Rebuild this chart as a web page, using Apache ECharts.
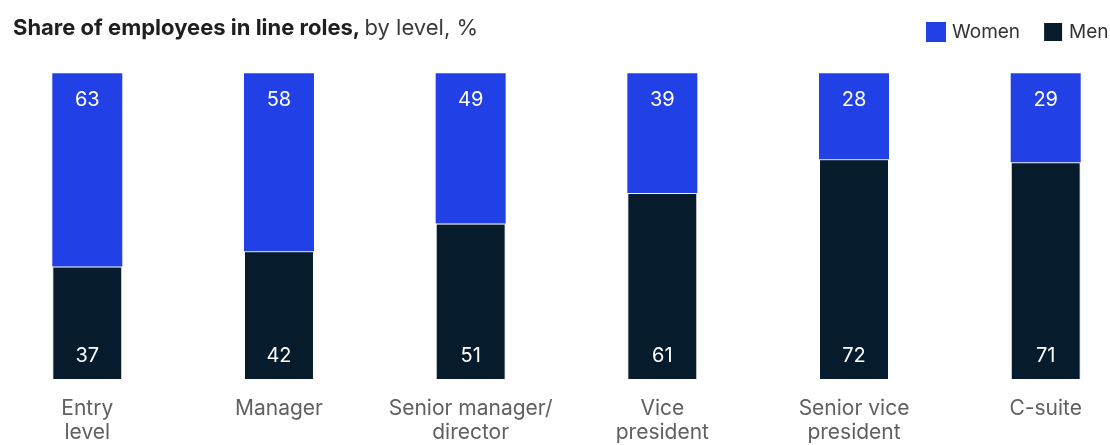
<!DOCTYPE html>
<html>
<head>
<meta charset="utf-8">
<script src="https://cdn.jsdelivr.net/npm/echarts@6/dist/echarts.min.js"></script>
<style>
  html, body { margin: 0; padding: 0; background: #ffffff; }
  #chart { width: 1110px; height: 445px; }
</style>
</head>
<body>
<div id="chart"></div>
<script>
// Corporate levels, entry level to C-suite
const levels = ['Entry\nlevel', 'Manager', 'Senior manager/\ndirector', 'Vice\npresident', 'Senior vice\npresident', 'C-suite'];
// Share of employees in line roles, %
const women = [63, 58, 49, 39, 28, 29];
const men = [37, 42, 51, 61, 72, 71];

const FONT = 'Inter, "Liberation Sans", Arial, sans-serif';
const BLUE = '#2141e6';
const NAVY = '#061c2c';

const chart = echarts.init(document.getElementById('chart'), null, { renderer: 'canvas' });

chart.setOption({
  animation: false,
  backgroundColor: '#ffffff',
  textStyle: { fontFamily: FONT },
  title: {
    left: 8,
    top: 12,
    text: '{b|Share of employees in line roles,} {n|by level, %}',
    textStyle: {
      rich: {
        b: { fontFamily: FONT, fontSize: 22, fontWeight: 'bold', color: '#1f1f1f' },
        n: { fontFamily: FONT, fontSize: 22, fontWeight: 'normal', color: '#3a3a3a' }
      }
    }
  },
  legend: {
    left: 921,
    top: 16,
    width: 400,
    orient: 'horizontal',
    itemWidth: 20,
    itemHeight: 20,
    itemGap: 22,
    icon: 'rect',
    textStyle: { fontFamily: FONT, fontSize: 19, color: '#333333', padding: [0, 0, 0, 1] },
    data: ['Women', 'Men']
  },
  grid: {
    left: 87.3,
    right: 64.3,
    top: 73.3,
    bottom: 63.3
  },
  xAxis: {
    type: 'category',
    data: levels,
    boundaryGap: false,
    axisLine: { show: false },
    axisTick: { show: false },
    axisLabel: {
      interval: 0,
      margin: 17,
      fontFamily: FONT,
      fontSize: 21,
      lineHeight: 24,
      color: '#606060',
      align: 'center'
    }
  },
  yAxis: {
    type: 'value',
    min: 0,
    max: 100,
    show: false,
    splitLine: { show: false }
  },
  series: [
    {
      name: 'Men',
      type: 'bar',
      stack: 'share',
      barWidth: 70,
      clip: false,
      data: men,
      itemStyle: { color: NAVY, borderColor: '#ffffff', borderWidth: 1 },
      label: {
        show: true,
        position: 'insideBottom',
        distance: 14,
        fontFamily: FONT,
        fontSize: 20,
        color: '#ffffff'
      }
    },
    {
      name: 'Women',
      type: 'bar',
      stack: 'share',
      barWidth: 70,
      clip: false,
      data: women,
      itemStyle: { color: BLUE },
      label: {
        show: true,
        position: 'insideTop',
        distance: 17,
        fontFamily: FONT,
        fontSize: 20,
        color: '#ffffff'
      }
    }
  ]
});
</script>
</body>
</html>
